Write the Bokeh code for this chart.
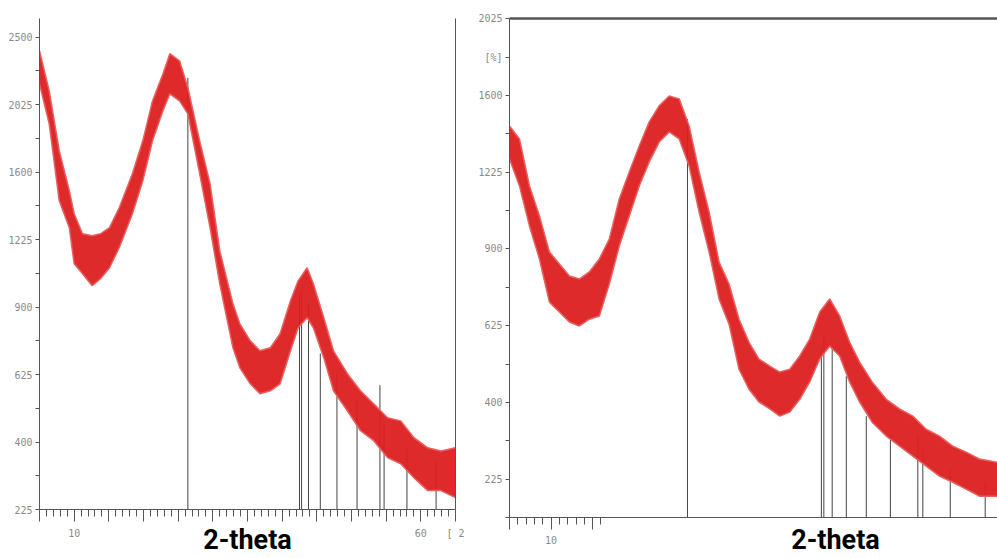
import math
import numpy as np
from bokeh.plotting import figure
from bokeh.layouts import row, column
from bokeh.models import FixedTicker, LinearAxis, Range1d, Spacer
from bokeh.embed import file_html
from bokeh.resources import INLINE

# ---------------- data ----------------
# left pattern: 2-theta and upper / lower edge of the noisy band (counts)
left_theta = [5.0, 6.4, 7.85, 9.3, 10.0, 11.2, 12.6, 13.8, 15.1, 16.5,
              18.4, 19.9, 21.3, 22.8, 23.8, 25.2, 26.4, 28.1, 29.6, 31.0,
              32.9, 33.9, 35.4, 36.8, 38.3, 39.7, 41.2, 42.3, 43.6, 44.5,
              46.0, 47.4, 49.4, 51.3, 53.2, 55.2, 57.1, 59.0, 61.0, 62.9, 65.0]
left_upper = [2399, 2117, 1728, 1491, 1362, 1255, 1245, 1255, 1287, 1395,
              1590, 1790, 2049, 2234, 2378, 2327, 2138, 1790, 1531, 1167,
              914, 827, 756, 716, 728, 785, 928, 1020, 1083, 1006,
              853, 716, 628, 566, 521, 475, 465, 413, 383, 374, 383]
left_lower = [2165, 1898, 1434, 1287, 1102, 1054, 997, 1030, 1083, 1183,
              1362, 1548, 1790, 1983, 2097, 2049, 1963, 1590, 1287, 1006,
              728, 650, 591, 556, 566, 591, 716, 810, 853, 810,
              689, 566, 498, 434, 404, 355, 338, 301, 269, 269, 252]

# right pattern
right_theta = [5.0, 6.2, 7.4, 8.6, 9.8, 11.0, 12.2, 13.4, 14.6, 15.8,
               17.0, 18.2, 19.4, 20.6, 21.8, 23.0, 24.2, 25.4, 26.6, 27.8,
               29.0, 30.2, 31.4, 32.6, 33.8, 35.0, 36.3, 37.5, 38.7, 39.9,
               41.1, 42.3, 43.5, 44.7, 45.9, 47.1, 48.6, 50.3, 51.9, 53.5,
               55.1, 56.7, 58.3, 59.9, 61.5, 63.7]
right_upper = [1445, 1381, 1163, 1033, 888, 842, 797, 786, 812, 861,
               939, 1106, 1226, 1347, 1465, 1546, 1597, 1582, 1445, 1226,
               1050, 849, 768, 646, 572, 521, 500, 483, 491, 530,
               582, 670, 715, 657, 572, 512, 455, 408, 383, 365,
               333, 317, 294, 281, 266, 259]
right_lower = [1286, 1163, 992, 861, 704, 670, 637, 624, 646, 657,
               768, 911, 1033, 1163, 1272, 1366, 1415, 1381, 1253, 1050,
               888, 715, 630, 491, 435, 401, 383, 365, 375, 408,
               455, 521, 560, 530, 455, 401, 350, 317, 294, 272,
               251, 231, 219, 206, 193, 193]

# reference (stick) pattern
stick_theta = [26.4, 42.5, 42.8, 43.8, 45.5, 47.9, 50.8, 54.1, 54.7, 58.0, 62.2]
left_stick_top = [2207, 960, 973, 916, 705, 628, 541, 586, 456, 383, 346]
right_stick_top = [1479, 551, 591, 551, 471, 365, 317, 317, 287, 245, 219]

# axis tick labels
y_tick_values = [225, 400, 625, 900, 1225, 1600, 2025, 2500]
right_y_tick_values = [225, 400, 625, 900, 1225, 1600, 2025]
left_x_labels = {10: "10", 60: "60", 65: "[ 2"}
right_x_labels = {10: "10"}
x_title = "2-theta"

# caption centre on the right panel (in 2-theta units), a layout constant
RIGHT_CAPTION_AT = 44.2

RED = "#dc1f1f"
AXIS = "#555555"
TICKC = "#8a8a8a"
TICKFONT = "DejaVu Sans Mono"


def style_axes(p):
    for ax in p.xaxis + p.yaxis:
        ax.axis_line_color = AXIS
        ax.major_tick_line_color = AXIS
        ax.minor_tick_line_color = AXIS
        ax.major_label_text_color = TICKC
        ax.major_label_text_font = TICKFONT
        ax.major_label_text_font_size = "10px"
        ax.major_tick_in = 0
        ax.minor_tick_in = 0
    for ax in p.xaxis:
        ax.major_tick_out = 12
        ax.minor_tick_out = 7
        ax.major_label_standoff = 6
    for ax in p.yaxis:
        ax.major_tick_out = 4
        ax.minor_tick_out = 4
        ax.major_label_standoff = 3


def panel(width, height, top, bottom, y_start, px_per_unit, x_end, theta, upper, lower,
          stick_top, yticks, ylabels_extra, xticks_major, xticks_minor, xlabels,
          right_border, top_border, min_border_right):
    frame_h = height - top - bottom
    y_end = y_start + frame_h / px_per_unit
    p = figure(width=width, height=height, output_backend="svg", toolbar_location=None,
               x_range=Range1d(5, x_end), y_range=Range1d(y_start, y_end),
               min_border_left=39, min_border_right=min_border_right,
               min_border_top=top, min_border_bottom=bottom)
    p.grid.visible = False
    p.outline_line_color = None
    p.background_fill_color = "white"
    p.border_fill_color = "white"

    # reference sticks
    p.segment(x0=stick_theta, y0=[y_start] * len(stick_theta),
              x1=stick_theta, y1=list(np.sqrt(stick_top)),
              line_color="#444444", line_width=1)
    # noisy band
    p.varea(x=theta, y1=list(np.sqrt(lower)), y2=list(np.sqrt(upper)),
            fill_color=RED, fill_alpha=0.95)
    p.line(x=theta, y=list(np.sqrt(upper)), line_color="#e86060", line_width=1.5)
    p.line(x=theta, y=list(np.sqrt(lower)), line_color="#e86060", line_width=1.5)

    # y axis (square-root intensity scale)
    ticks = [math.sqrt(v) for v in yticks]
    overrides = {t: str(v) for t, v in zip(ticks, yticks)}
    minor = [t + 2.5 for t in ticks] + [ticks[0] - 2.5]
    for t, txt in ylabels_extra.items():
        ticks.append(t)
        overrides[t] = txt
    minor = [m for m in minor if m not in ticks]
    ya = p.yaxis[0]
    ya.ticker = FixedTicker(ticks=ticks, minor_ticks=minor)
    ya.major_label_overrides = overrides

    xa = p.xaxis[0]
    xa.ticker = FixedTicker(ticks=xticks_major, minor_ticks=xticks_minor)
    xa.major_label_overrides = {t: xlabels.get(t, "") for t in xticks_major}

    if right_border:
        ra = LinearAxis(ticker=FixedTicker(ticks=[]), major_label_text_font_size="0px",
                        axis_line_color="#666666", axis_line_width=1)
        p.add_layout(ra, "right")
    if top_border:
        ta = LinearAxis(ticker=FixedTicker(ticks=[]), major_label_text_font_size="0px",
                        axis_line_color="#555555", axis_line_width=2.5)
        p.add_layout(ta, "above")

    style_axes(p)
    return p


# left panel: caption is the x axis label (centred under the frame)
p1 = panel(470, 558, 18, 49, 15, 13.5, 65, left_theta, left_upper, left_lower,
           left_stick_top, y_tick_values, {}, list(range(5, 66, 5)),
           [i for i in range(6, 65) if i % 5], left_x_labels,
           True, False, 15)
xa1 = p1.xaxis[0]
xa1.axis_label = x_title
xa1.axis_label_text_font = "Roboto"
xa1.axis_label_text_font_style = "bold"
xa1.axis_label_text_font_size = "27px"
xa1.axis_label_text_color = "black"
xa1.axis_label_standoff = -18

# right panel: caption is the single label of a bare second axis below
p2 = panel(527, 549, 9, 40, 12.5, 15.38, 63.68, right_theta, right_upper, right_lower,
           right_stick_top, right_y_tick_values, {42.5: "[%]"}, [5, 10, 15],
           [6, 7, 8, 9, 11, 12, 13, 14, 16], right_x_labels,
           False, True, 0)
cap = LinearAxis(ticker=FixedTicker(ticks=[RIGHT_CAPTION_AT], minor_ticks=[]),
                 major_label_overrides={RIGHT_CAPTION_AT: x_title},
                 axis_line_color=None, major_tick_line_color=None,
                 minor_tick_line_color=None,
                 major_tick_out=0, minor_tick_out=0, major_tick_in=0, minor_tick_in=0,
                 major_label_standoff=-23,
                 major_label_text_font="Roboto", major_label_text_font_style="bold",
                 major_label_text_font_size="27px", major_label_text_color="black")
p2.add_layout(cap, "below")

layout = row(p1, column(Spacer(width=527, height=9), p2))
open("out.html", "w").write(file_html(layout, INLINE))
